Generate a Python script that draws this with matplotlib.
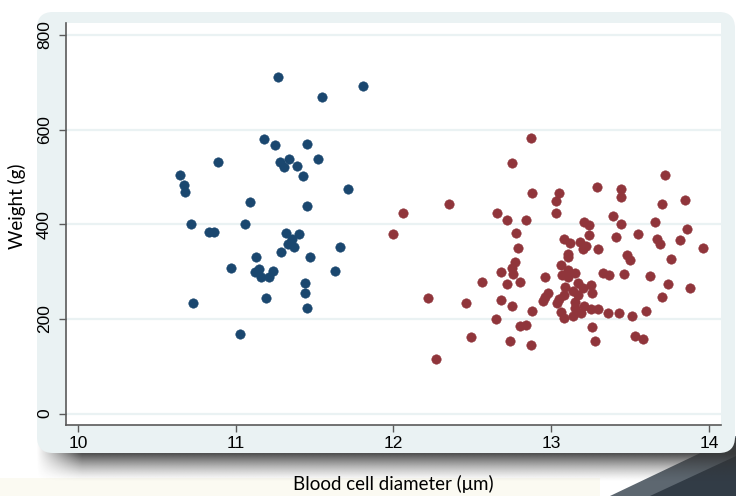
import numpy as np
import matplotlib
matplotlib.use('Agg')
import matplotlib.pyplot as plt
from matplotlib.patches import FancyBboxPatch, Polygon, Rectangle

# blue group (smaller cells)
blue_x = [11.27, 11.55, 11.81, 11.18, 11.25, 11.45, 10.89, 11.28, 11.34, 11.31,
          11.39, 11.52, 11.43, 10.65, 10.67, 10.68, 11.71, 11.09, 11.45, 10.72,
          11.06, 10.83, 10.86, 11.32, 11.40, 11.36, 11.33, 11.37, 11.29, 11.66,
          11.13, 11.47, 10.97, 11.12, 11.15, 11.24, 11.16, 11.21, 11.63, 11.44,
          11.44, 11.19, 10.73, 11.45, 11.03]
blue_y = [711, 668, 691, 581, 567, 569, 532, 531, 537, 521,
          522, 537, 502, 505, 482, 469, 475, 448, 439, 401,
          401, 383, 383, 382, 380, 369, 359, 352, 342, 351,
          330, 330, 307, 299, 305, 301, 289, 288, 301, 275,
          254, 245, 234, 223, 168]

# red group (larger cells)
red_x = [12.87, 12.75, 12.06, 12.00, 12.35, 12.88, 13.05, 13.03, 13.03, 13.29,
         13.44, 13.44, 13.72, 13.70, 13.85, 12.66, 12.72, 12.84, 12.78, 12.79,
         12.77, 12.75, 12.76, 12.68, 12.72, 12.80, 12.56, 12.22, 12.46, 12.68,
         12.75, 12.65, 12.88, 12.80, 12.84, 12.49, 12.74, 12.87, 12.27, 13.21,
         13.24, 13.24, 13.39, 13.44, 13.66, 13.86, 13.55, 13.41, 13.08, 13.12,
         13.18, 13.22, 13.20, 13.30, 13.67, 13.69, 13.82, 13.96, 13.11, 13.11,
         13.48, 13.50, 13.76, 13.06, 13.11, 13.15, 13.07, 13.11, 13.33, 13.37,
         13.46, 13.63, 12.96, 13.17, 13.25, 13.09, 13.74, 13.88, 13.14, 13.20,
         13.26, 12.98, 13.08, 13.17, 13.70, 12.96, 13.05, 12.95, 13.04, 13.15,
         13.21, 13.15, 13.25, 13.30, 13.36, 13.43, 13.51, 13.60, 13.06, 13.08,
         13.14, 13.19, 13.26, 13.28, 13.53, 13.58]
red_y = [583, 530, 424, 380, 443, 467, 467, 449, 424, 479,
         475, 458, 504, 443, 452, 423, 410, 408, 381, 350,
         321, 308, 295, 299, 274, 279, 279, 245, 234, 240,
         228, 200, 217, 186, 188, 161, 153, 145, 116, 404,
         398, 377, 417, 401, 405, 390, 380, 372, 369, 360,
         363, 353, 348, 347, 368, 358, 366, 349, 337, 331,
         335, 324, 326, 314, 303, 297, 292, 289, 297, 293,
         295, 291, 289, 276, 272, 268, 274, 265, 259, 265,
         255, 255, 250, 251, 246, 247, 242, 237, 234, 235,
         228, 223, 220, 222, 213, 212, 206, 216, 215, 202,
         206, 212, 184, 154, 164, 157]

xticks = [10, 11, 12, 13, 14]
yticks = [0, 200, 400, 600, 800]

W, H = 736, 496
fig = plt.figure(figsize=(W / 100, H / 100), dpi=100)
fig.patch.set_facecolor('white')

# background layer in pixel units
bg = fig.add_axes([0, 0, 1, 1], zorder=-1)
bg.set_xlim(0, W)
bg.set_ylim(H, 0)
bg.axis('off')
bg.add_patch(Rectangle((0, 478), 600, 18, color='#fbfaf2', lw=0))
bg.add_patch(Polygon([(610, 496), (736, 436), (736, 496)], closed=True,
                     color='#5d6770', lw=0))
bg.add_patch(Polygon([(650, 496), (736, 456), (736, 496)], closed=True,
                     color='#323c46', lw=0))

# soft drop shadow under the panel
sx0, sx1, sy0, sy1 = 36, 736, 438, 482
yy = np.linspace(0, 1, 60)[:, None]
xx = np.linspace(sx0, sx1, 400)[None, :]
a_y = np.where(yy < 0.36, 1.0, np.clip(1 - (yy - 0.36) / 0.64, 0, 1) ** 1.4)
a_x = np.clip((xx - sx0) / 45.0, 0, 1)
shadow = np.zeros((60, 400, 4))
shadow[..., 0:3] = 0.2
shadow[..., 3] = 0.85 * a_y * a_x
bg.imshow(shadow, extent=(sx0, sx1, sy1, sy0), aspect='auto',
          interpolation='bilinear', zorder=1)
bg.set_xlim(0, W)
bg.set_ylim(H, 0)

bg.add_patch(FancyBboxPatch((37, 12), 698, 441,
                            boxstyle='round,pad=0,rounding_size=16',
                            fc='#EAF2F3', ec='none', zorder=2))

ax = fig.add_axes([66 / W, 1 - 425 / H, (720.7 - 66) / W, (425 - 23) / H])
ax.set_facecolor('white')
ax.scatter(blue_x, blue_y, s=46, color='#1A476F', edgecolors='#1A476F',
           linewidths=0.4, zorder=3)
ax.scatter(red_x, red_y, s=46, color='#90353B', edgecolors='#90353B',
           linewidths=0.4, zorder=3)

ax.set_xlim(9.925, 14.075)
ax.set_ylim(-24, 825)
ax.set_xticks(xticks)
ax.set_yticks(yticks)
ax.grid(axis='y', color='#EAF2F3', lw=1.6)
ax.set_axisbelow(True)

for s in ['top', 'right']:
    ax.spines[s].set_visible(False)
for s in ['left', 'bottom']:
    ax.spines[s].set_color('#5a5a5a')
    ax.spines[s].set_linewidth(1.2)

ax.tick_params(axis='both', colors='#5a5a5a', labelcolor='black', width=1,
               labelsize=12.5, length=5)
ax.tick_params(axis='y', pad=5)
ax.tick_params(axis='x', pad=3)
for lab in ax.get_xticklabels() + ax.get_yticklabels():
    lab.set_family('Liberation Sans')
plt.setp(ax.get_yticklabels(), rotation=90, va='center')

fig.text(17 / W, 1 - 206 / H, 'Weight (g)', rotation=90, ha='center',
         va='center', family='Lato', fontsize=13.5)
fig.text(393 / W, 1 - 484 / H, 'Blood cell diameter (μm)', ha='center',
         va='center', family='Lato', fontsize=13.5)

fig.savefig('out.png', dpi=100)
